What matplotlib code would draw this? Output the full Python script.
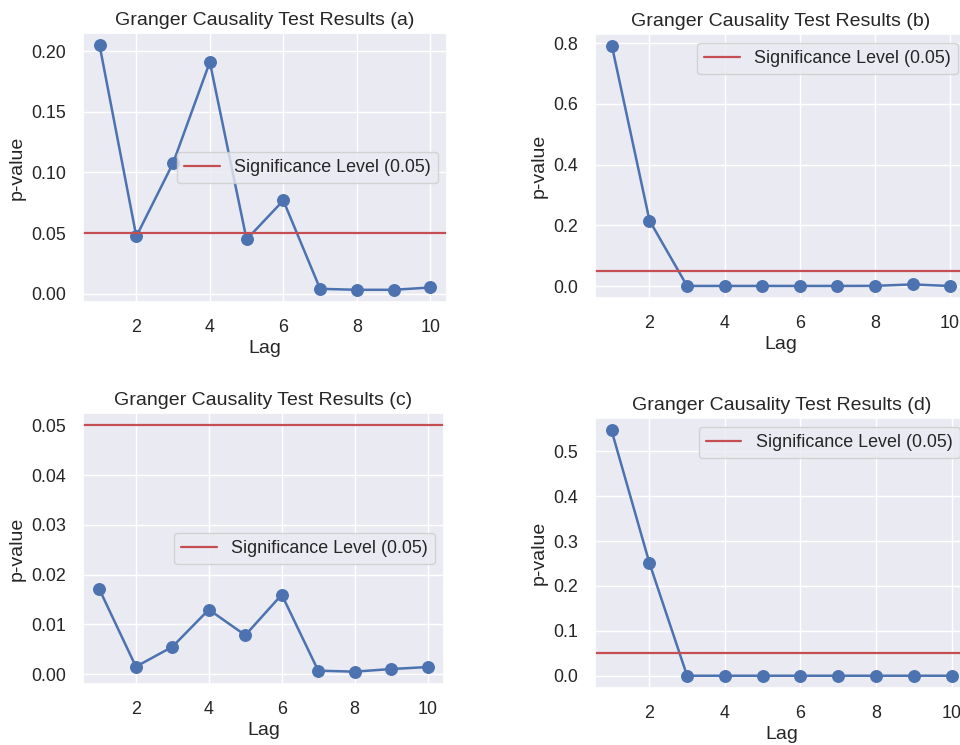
import matplotlib
matplotlib.use("Agg")
import matplotlib.pyplot as plt
import seaborn as sns

sns.set_theme(style="darkgrid", font_scale=1.17)
plt.rcParams['font.family'] = ['Liberation Sans', 'DejaVu Sans']
plt.rcParams['ytick.major.pad'] = 6
plt.rcParams['xtick.major.pad'] = 6

lags = list(range(1, 11))
p_a = [0.2047, 0.0473, 0.1077, 0.1909, 0.0448, 0.0769, 0.0041, 0.0033, 0.0033, 0.0052]
p_b = [0.791, 0.216, 0.0005, 0.0005, 0.0005, 0.0005, 0.0005, 0.0008, 0.0055, 0.0003]
p_c = [0.0170, 0.00147, 0.00547, 0.01295, 0.0078, 0.01595, 0.00067, 0.00047, 0.0010, 0.0014]
p_d = [0.5467, 0.2519, 0.0, 0.0, 0.0, 0.0, 0.0, 0.0, 0.0, 0.0]
sig_level = 0.05

panels = [
    ("a", p_a, [0.0865, 0.5946, 0.379, 0.361], "center right"),
    ("b", p_b, [0.6198, 0.6000, 0.3875, 0.3544], "upper right"),
    ("c", p_c, [0.0865, 0.0819, 0.376, 0.3638], "center right"),
    ("d", p_d, [0.6193, 0.0765, 0.3896, 0.3624], "upper right"),
]

fig = plt.figure(figsize=(9.6, 7.45), dpi=100)

for tag, pvals, rect, loc in panels:
    ax = fig.add_axes(rect)
    ax.plot(lags, pvals, marker='o', color='#4C72B0', linewidth=1.8, markersize=8.3)
    ax.axhline(sig_level, color='#C44E52', linewidth=1.6, label='Significance Level (0.05)')
    ax.set_title(f"Granger Causality Test Results ({tag})")
    ax.set_xlabel("Lag", labelpad=3)
    ax.set_ylabel("p-value")
    ax.legend(loc=loc)

plt.savefig("out.png", dpi=100)
